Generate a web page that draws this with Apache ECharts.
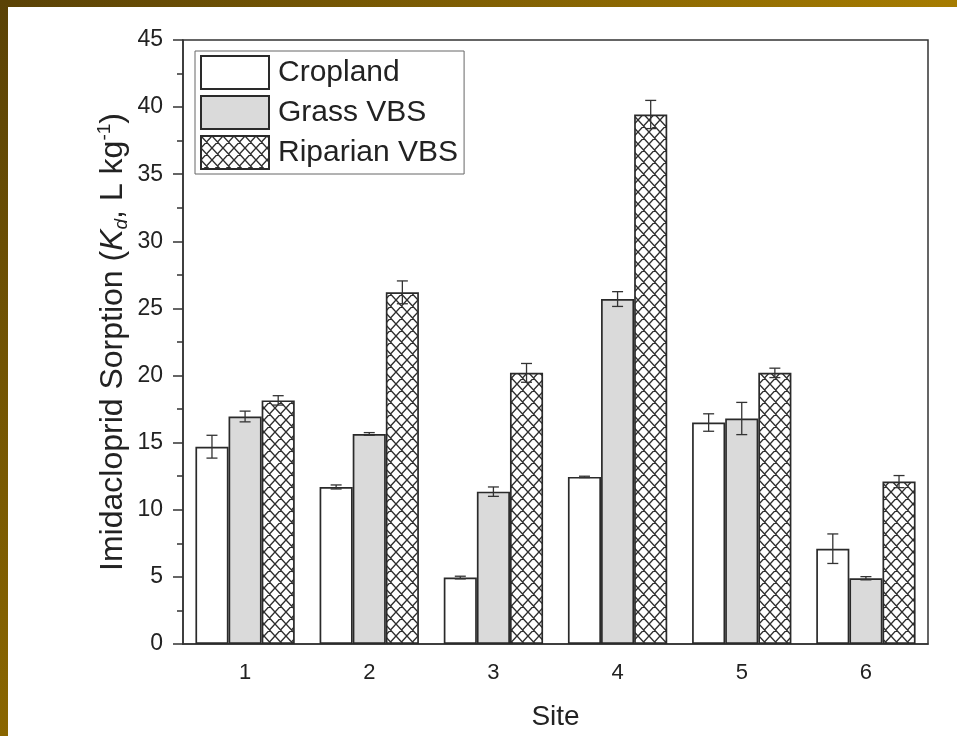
<!DOCTYPE html>
<html>
<head>
<meta charset="utf-8">
<script src="https://cdn.jsdelivr.net/npm/echarts@6/dist/echarts.min.js"></script>
<style>
html,body{margin:0;padding:0;background:#fff;}
#chart{width:957px;height:736px;}
</style>
</head>
<body>
<div id="chart"></div>
<script>
// ---- data ----
const sites = ['1', '2', '3', '4', '5', '6'];
const seriesNames = ['Cropland', 'Grass VBS', 'Riparian VBS'];
const cropland = [14.7, 11.7, 4.95, 12.45, 16.5, 7.1];
const croplandErr = [0.85, 0.15, 0.1, 0.05, 0.65, 1.1];
const grass = [16.95, 15.65, 11.35, 25.7, 16.8, 4.9];
const grassErr = [0.4, 0.1, 0.35, 0.55, 1.2, 0.12];
const riparian = [18.15, 26.2, 20.2, 39.45, 20.2, 12.1];
const riparianErr = [0.35, 0.85, 0.7, 1.05, 0.35, 0.45];
const yTicks = { min: 0, max: 45, interval: 5 };

// ---- crosshatch pattern ----
function makeHatch() {
  const w = 11, h = 12;
  const c = document.createElement('canvas');
  c.width = w; c.height = h;
  const ctx = c.getContext('2d');
  ctx.fillStyle = '#ffffff';
  ctx.fillRect(0, 0, w, h);
  ctx.strokeStyle = '#2e2e2e';
  ctx.lineWidth = 1.4;
  ctx.beginPath();
  for (let k = -1; k <= 1; k++) {
    ctx.moveTo(k * w, 0); ctx.lineTo(k * w + w, h);
    ctx.moveTo(k * w + w, 0); ctx.lineTo(k * w, h);
  }
  ctx.stroke();
  return c;
}
const hatch = makeHatch();

const GRID = { left: 183, right: 29, top: 40, bottom: 90 };
const BAR_GAP_CAT = 0.2;

function errSeries(values, errs, k) {
  return {
    type: 'custom',
    xAxisIndex: 0, yAxisIndex: 0,
    z: 10,
    silent: true,
    data: values.map((v, i) => [i, v, errs[i]]),
    renderItem: function (params, api) {
      const i = api.value(0), v = api.value(1), e = api.value(2);
      const band = api.size([1, 0])[0];
      const bw = band * (1 - BAR_GAP_CAT) / 3;
      const c = api.coord([i, v]);
      const x = c[0] + (k - 1) * bw;
      const yt = api.coord([i, v + e])[1];
      const yb = api.coord([i, v - e])[1];
      const cap = 5.5;
      const st = { stroke: '#333', lineWidth: 1.3 };
      return {
        type: 'group',
        children: [
          { type: 'line', shape: { x1: x, y1: yt, x2: x, y2: yb }, style: st },
          { type: 'line', shape: { x1: x - cap, y1: yt, x2: x + cap, y2: yt }, style: st },
          { type: 'line', shape: { x1: x - cap, y1: yb, x2: x + cap, y2: yb }, style: st }
        ]
      };
    }
  };
}

const chart = echarts.init(document.getElementById('chart'), null, { renderer: 'canvas' });
const barBorder = { borderColor: '#2a2a2a', borderWidth: 1.7 };
const option = {
  animation: false,
  backgroundColor: '#ffffff',
  textStyle: { fontFamily: 'Liberation Sans, Arial, sans-serif' },
  graphic: [
    { type: 'rect', left: 0, top: 0, z: 100, shape: { width: 957, height: 7 },
      style: { fill: new echarts.graphic.LinearGradient(0, 0, 1, 0, [
        { offset: 0, color: '#5a4206' }, { offset: 1, color: '#a67c00' }]) } },
    { type: 'rect', left: 0, top: 0, z: 100, shape: { width: 8, height: 736 },
      style: { fill: new echarts.graphic.LinearGradient(0, 0, 0, 1, [
        { offset: 0, color: '#5a4206' }, { offset: 1, color: '#8a6600' }]) } }
  ],
  grid: [
    Object.assign({ show: true, borderColor: '#333', borderWidth: 1.5, containLabel: false }, GRID),
    Object.assign({ show: false, containLabel: false }, GRID)
  ],
  legend: {
    data: seriesNames,
    icon: 'rect',
    orient: 'vertical',
    left: 195, top: 51,
    padding: [4, 6, 4, 5],
    itemWidth: 68, itemHeight: 33, itemGap: 5,
    borderColor: '#666', borderWidth: 1,
    backgroundColor: '#fff',
    textStyle: { fontSize: 30, color: '#222', lineHeight: 33, padding: [0, 0, 0, 4] },
    selectedMode: false
  },
  xAxis: [
    {
      type: 'category', data: sites, gridIndex: 0, position: 'bottom',
      axisLine: { lineStyle: { color: '#333', width: 1.5 } },
      axisTick: { alignWithLabel: true, length: 10, lineStyle: { color: '#333', width: 1.5 } },
      axisLabel: { fontSize: 22, color: '#222', margin: 18 },
      name: 'Site', nameLocation: 'middle', nameGap: 59, nameMoveOverlap: false,
      nameTextStyle: { fontSize: 28, color: '#222' },
      splitLine: { show: false }
    },
    {
      type: 'category', data: sites, gridIndex: 1, position: 'bottom',
      axisLine: { show: false },
      axisTick: { alignWithLabel: false, length: 6, lineStyle: { color: '#333', width: 1.5 } },
      axisLabel: { show: false },
      splitLine: { show: false }
    }
  ],
  yAxis: [
    {
      type: 'value', gridIndex: 0, min: yTicks.min, max: yTicks.max, interval: yTicks.interval,
      axisLine: { show: true, lineStyle: { color: '#333', width: 1.5 } },
      axisTick: { show: true, length: 10, lineStyle: { color: '#333', width: 1.5 } },
      minorTick: { show: true, splitNumber: 2, length: 6, lineStyle: { color: '#333', width: 1.5 } },
      axisLabel: { fontSize: 23, color: '#222', margin: 20 },
      splitLine: { show: false },
      name: '{a|Imidacloprid Sorption (}{i|K}{sub|d}{a|, L kg}{sup|-1}{a|)}',
      nameLocation: 'middle', nameGap: 52, nameRotate: 90, nameMoveOverlap: false,
      nameTextStyle: {
        color: '#222',
        rich: {
          a: { fontSize: 32, color: '#222', lineHeight: 36 },
          i: { fontSize: 32, color: '#222', fontStyle: 'italic', lineHeight: 36 },
          sub: { fontSize: 19, color: '#222', fontStyle: 'italic', lineHeight: 19, verticalAlign: 'bottom' },
          sup: { fontSize: 19, color: '#222', lineHeight: 19, verticalAlign: 'top' }
        }
      }
    },
    {
      type: 'value', gridIndex: 1, min: yTicks.min, max: yTicks.max, interval: yTicks.interval,
      show: false
    }
  ],
  series: [
    { name: seriesNames[0], type: 'bar', data: cropland, barGap: '0%', barCategoryGap: '20%',
      itemStyle: Object.assign({ color: '#ffffff' }, barBorder) },
    { name: seriesNames[1], type: 'bar', data: grass, barGap: '0%', barCategoryGap: '20%',
      itemStyle: Object.assign({ color: '#dadada' }, barBorder) },
    { name: seriesNames[2], type: 'bar', data: riparian, barGap: '0%', barCategoryGap: '20%',
      itemStyle: Object.assign({ color: { image: hatch, repeat: 'repeat' } }, barBorder) },
    errSeries(cropland, croplandErr, 0),
    errSeries(grass, grassErr, 1),
    errSeries(riparian, riparianErr, 2)
  ]
};
chart.setOption(option);
</script>
</body>
</html>
